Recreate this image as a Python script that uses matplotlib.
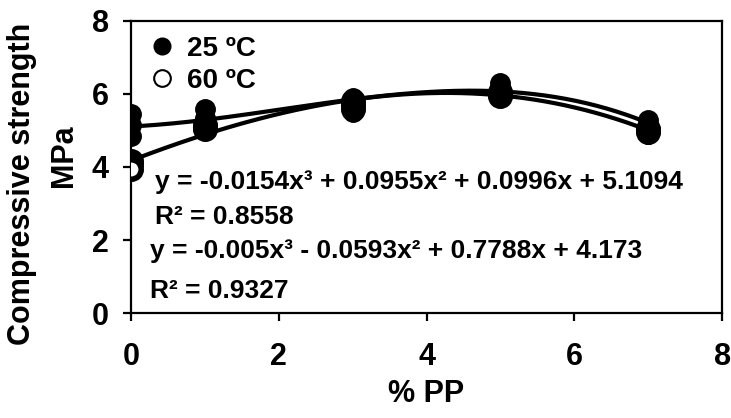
import numpy as np
import matplotlib
matplotlib.use("Agg")
import matplotlib.pyplot as plt
from matplotlib.lines import Line2D

plt.rcParams["font.family"] = ["Liberation Sans", "DejaVu Sans"]
plt.rcParams["font.weight"] = "bold"

# ----------------------------
# Data
# ----------------------------
pp_25 = [0, 0, 0, 1, 1, 1, 3, 3, 3, 5, 5, 5, 7, 7, 7]
cs_25 = [5.45, 5.15, 4.85, 5.6, 5.35, 5.1, 5.9, 5.7, 5.5, 6.3, 6.1, 5.95, 5.3, 5.1, 4.9]

pp_60 = [0, 0, 0, 1, 1, 1, 3, 3, 3, 5, 5, 5, 7, 7, 7]
cs_60 = [4.17, 4.07, 3.95, 5.15, 5.1, 5.05, 5.8, 5.7, 5.6, 6.05, 6.0, 5.95, 5.05, 5.0, 4.95]

# cubic trendline coefficients (highest power first)
fit_25 = [-0.0154, 0.0955, 0.0996, 5.1094]
fit_60 = [-0.005, -0.0593, 0.7788, 4.173]

eq_lines = [
    "y = -0.0154x³ + 0.0955x² + 0.0996x + 5.1094",
    "R² = 0.8558",
    "y = -0.005x³ - 0.0593x² + 0.7788x + 4.173",
    "R² = 0.9327",
]

labels = ["25 ºC", "60 ºC"]
x_ticks = [0, 2, 4, 6, 8]
y_ticks = [0, 2, 4, 6, 8]

# ----------------------------
# Plot
# ----------------------------
fig = plt.figure(figsize=(7.31, 4.18), dpi=100)
ax = fig.add_axes([0.179, 0.251, 0.809, 0.699])

xs = np.linspace(0, 7, 200)

ax.plot(pp_60, cs_60, "o", ms=14, mfc="white", mec="black", mew=4, zorder=3)
ax.plot(pp_25, cs_25, "o", ms=14, mfc="black", mec="black", zorder=4)
ax.plot(xs, np.polyval(fit_25, xs), color="black", lw=3, zorder=2)
ax.plot(xs, np.polyval(fit_60, xs), color="black", lw=3, zorder=2)

ax.set_xlim(0, 8)
ax.set_ylim(0, 8)
ax.set_xticks(x_ticks)
ax.set_yticks(y_ticks)

for s in ax.spines.values():
    s.set_linewidth(1.6)

ax.tick_params(direction="out", length=6, width=1.6, labelsize=22)
ax.tick_params(axis="x", pad=15)
ax.tick_params(axis="y", pad=10)

ax.set_xlabel("% PP", fontsize=22, fontweight="bold", labelpad=5)

# y title: two lines placed separately (they are not centred on each other)
fig.text(22 / 731, 1 - 184 / 418, "Compressive strength", rotation=90,
         fontsize=22, fontweight="bold", ha="center", va="center")
fig.text(64 / 731, 1 - 156 / 418, "MPa", rotation=90,
         fontsize=22, fontweight="bold", ha="center", va="center")

# trendline equations
ax.text(0.33, 3.41, eq_lines[0], fontsize=19, fontweight="bold", va="baseline")
ax.text(0.33, 2.45, eq_lines[1], fontsize=19, fontweight="bold", va="baseline")
ax.text(0.26, 1.51, eq_lines[2], fontsize=19, fontweight="bold", va="baseline")
ax.text(0.26, 0.41, eq_lines[3], fontsize=19, fontweight="bold", va="baseline")

handles = [
    Line2D([], [], ls="", marker="o", ms=12, mfc="black", mec="black"),
    Line2D([], [], ls="", marker="o", ms=12, mfc="white", mec="black", mew=1.5),
]
ax.legend(handles, labels, loc="upper left", bbox_to_anchor=(0.03, 0.948),
          frameon=False, fontsize=20, handlelength=1.0, handletextpad=0.4,
          labelspacing=0.2, borderaxespad=0.0, borderpad=0.0)

fig.savefig("out.png", dpi=100)
plt.close()
print("saved")
